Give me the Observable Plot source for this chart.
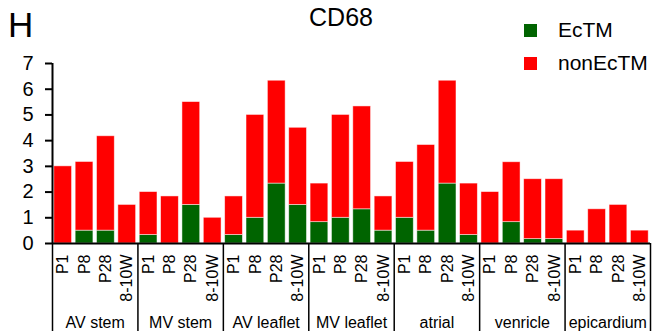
<!DOCTYPE html>
<html><head><meta charset="utf-8">
<script src="https://cdn.jsdelivr.net/npm/d3@7"></script>
<script src="https://cdn.jsdelivr.net/npm/@observablehq/plot@0.6"></script>
<style>
body{margin:0;background:#fff;}
#wrap{position:relative;width:663px;height:334px;font-family:"Liberation Sans",Arial,sans-serif;color:#000;}
#wrap svg{display:block;}
#head{position:absolute;left:0;top:0;pointer-events:none;overflow:visible;}
</style></head><body><div id="wrap"></div>
<script>
const panelLetter = "H";
const title = "CD68";
const groups = ["AV stem","MV stem","AV leaflet","MV leaflet","atrial","venricle","epicardium"];
const timepoints = ["P1","P8","P28","8-10W"];
const seriesNames = ["EcTM","nonEcTM"];
const seriesColors = ["#006400","#ff0000"];
// EcTM values, group by group, P1 / P8 / P28 / 8-10W
const ecTM = [
  0, 0.5, 0.5, 0,
  0.33, 0, 1.5, 0,
  0.33, 1.0, 2.33, 1.5,
  0.83, 1.0, 1.33, 0.5,
  1.0, 0.5, 2.33, 0.33,
  0, 0.83, 0.17, 0.17,
  0, 0, 0, 0
];
// nonEcTM values (stacked above EcTM)
const nonEcTM = [
  3.0, 2.67, 3.67, 1.5,
  1.67, 1.83, 4.0, 1.0,
  1.5, 4.0, 4.0, 3.0,
  1.5, 4.0, 4.0, 1.33,
  2.17, 3.33, 4.0, 2.0,
  2.0, 2.33, 2.33, 2.33,
  0.5, 1.33, 1.5, 0.5
];
const yTicks = [0,1,2,3,4,5,6,7];

const rows = [];
groups.forEach((g, gi) => timepoints.forEach((t, ti) => {
  const i = gi * timepoints.length + ti;
  rows.push({i, group: g, time: t, ec: ecTM[i], non: nonEcTM[i]});
}));
const segs = rows.flatMap(r => [
  {i: r.i, y1: 0, y2: r.ec, s: seriesNames[0]},
  {i: r.i, y1: r.ec, y2: r.ec + r.non, s: seriesNames[1]}
]).filter(d => d.y2 > d.y1);
const groupInfo = groups.map((g, gi) => ({g, mid: gi * timepoints.length + timepoints.length / 2}));
const seps = d3.range(0, rows.length + 1, timepoints.length);

const chart = Plot.plot({
  width: 663, height: 334,
  marginLeft: 52, marginRight: 13, marginTop: 63, marginBottom: 91,
  style: {fontFamily: '"Liberation Sans", Arial, sans-serif', fontSize: "16px", color: "#000", background: "transparent", overflow: "visible"},
  x: {domain: [0, rows.length], axis: null},
  y: {domain: [0, 7], axis: null},
  color: {domain: seriesNames, range: seriesColors},
  marks: [
    Plot.rectY(segs, {x1: "i", x2: d => d.i + 1, y1: "y1", y2: "y2", fill: "s", insetLeft: 1.8, insetRight: 1.8, stroke: "#ffffff", strokeOpacity: 0.6, strokeWidth: 0.8}),
    Plot.axisY({ticks: yTicks, tickFormat: "d", tickSize: 7, tickPadding: 12, fontSize: 20, strokeWidth: 2, label: null}),
    Plot.ruleX([0], {strokeWidth: 2}),
    Plot.ruleY([0], {strokeWidth: 2}),
    Plot.ruleX(seps, {y1: 0, y2: 0, insetBottom: -88, strokeWidth: 1.5}),
    Plot.text(rows, {x: d => d.i + 0.5, y: 0, text: "time", rotate: -90, textAnchor: "end", dy: 11, fontSize: 16}),
    Plot.text(groupInfo, {x: "mid", y: 0, text: "g", dy: 79, fontSize: 16})
  ]
});
const wrap = document.getElementById("wrap");
wrap.appendChild(chart);

// header: panel letter, title, legend
const head = d3.select(wrap).append("svg").attr("id", "head").attr("width", 663).attr("height", 90)
  .attr("font-family", '"Liberation Sans", Arial, sans-serif');
head.append("text").attr("x", 8).attr("y", 37).attr("font-size", 35).text(panelLetter);
head.append("text").attr("x", 341).attr("y", 26).attr("font-size", 25).attr("text-anchor", "middle").text(title);
const leg = head.selectAll("g.leg").data(seriesNames).join("g").attr("class", "leg")
  .attr("transform", (d, k) => `translate(524,${24 + k * 33})`);
leg.append("rect").attr("width", 13).attr("height", 13).attr("fill", (d, k) => seriesColors[k]);
leg.append("text").attr("x", 34).attr("y", 13).attr("font-size", 21).text(d => d);
</script></body></html>
